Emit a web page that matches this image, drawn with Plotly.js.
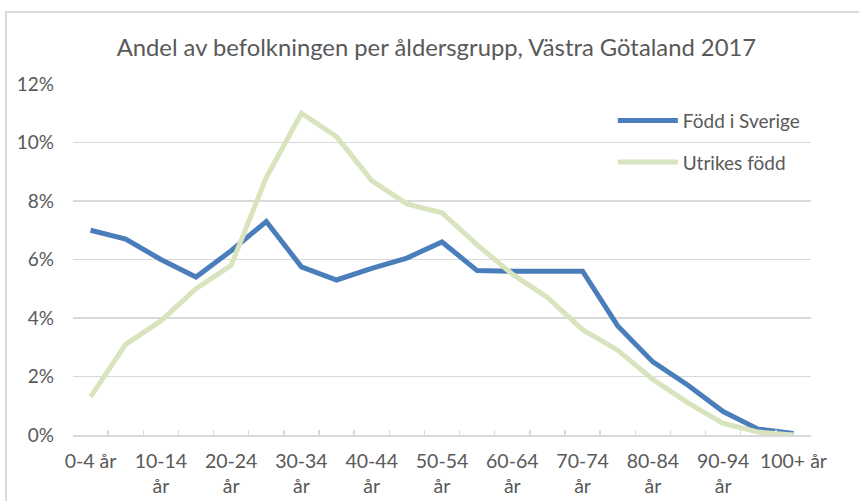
<!DOCTYPE html>
<html>
<head>
<meta charset="utf-8">
<script src="https://cdn.plot.ly/plotly-3.0.1.min.js"></script>
<style>
  html, body { margin: 0; padding: 0; background: #fff; }
  #wrap { position: relative; width: 859px; height: 501px; overflow: hidden; }
  #chart { position: absolute; left: 0; top: 0; width: 859px; height: 501px; }
  #frame { position: absolute; left: 5px; top: 11px; width: 900px; height: 600px;
           border: 2px solid #d9d9d9; pointer-events: none; box-sizing: border-box; }
</style>
</head>
<body>
<div id="wrap"><div id="chart"></div><div id="frame"></div></div>
<script>
// Age groups
const categories = ["0-4 år","5-9 år","10-14 år","15-19 år","20-24 år","25-29 år","30-34 år",
  "35-39 år","40-44 år","45-49 år","50-54 år","55-59 år","60-64 år","65-69 år","70-74 år",
  "75-79 år","80-84 år","85-89 år","90-94 år","95-99 år","100+ år"];
// Share of population (fraction)
const foddSverige = [0.070,0.067,0.060,0.054,0.063,0.073,0.0575,0.053,0.057,0.0605,0.066,
  0.0562,0.056,0.056,0.056,0.0373,0.025,0.017,0.008,0.002,0.0005];
const utrikesFodd = [0.013,0.031,0.039,0.050,0.058,0.088,0.110,0.102,0.087,0.079,0.076,
  0.065,0.055,0.047,0.036,0.029,0.019,0.011,0.004,0.001,0.0];
// Tick labels shown (every other group)
const tickLabels = ["0-4 år","","10-14<br>år","","20-24<br>år","","30-34<br>år","","40-44<br>år","",
  "50-54<br>år","","60-64<br>år","","70-74<br>år","","80-84<br>år","","90-94<br>år","","100+ år"];

const FONT = "Lato, 'Open Sans', sans-serif";
const TXT = "#595959";

const traces = [
  {x: categories, y: foddSverige, type: "scatter", mode: "lines", name: "Född i Sverige",
   line: {color: "#4a7ebb", width: 5}, legendgroup: "a"},
  {x: categories, y: utrikesFodd, type: "scatter", mode: "lines", name: "Utrikes född",
   line: {color: "#d7e4bd", width: 5}, legendgroup: "b"}
];

const layout = {
  width: 859, height: 501,
  margin: {l: 73, r: 48, t: 84, b: 66},
  paper_bgcolor: "#fff", plot_bgcolor: "#fff",
  font: {family: FONT, color: TXT},
  title: {text: "Andel av befolkningen per åldersgrupp, Västra Götaland 2017",
          font: {family: FONT, size: 23.8, color: TXT}, x: 0.508, xanchor: "center", y: 0.905, yanchor: "middle"},
  showlegend: true,
  legend: {x: 0.7315, xanchor: "left", y: 0.95, yanchor: "top", bgcolor: "rgba(0,0,0,0)",
           font: {family: FONT, size: 19, color: TXT}, traceorder: "grouped", tracegroupgap: 14,
           itemwidth: 60},
  xaxis: {type: "category", range: [-0.5, 20.5], tickmode: "array", tickvals: categories, ticktext: tickLabels,
          tickson: "boundaries", ticks: "inside", ticklen: 5, tickcolor: "#d9d9d9", tickwidth: 1.5,
          showline: true, linecolor: "#d9d9d9", linewidth: 1.5, showgrid: false, zeroline: false,
          tickangle: 0, tickfont: {family: FONT, size: 19.5, color: TXT}, ticklabelstandoff: 8,
          fixedrange: true},
  yaxis: {range: [0, 0.12], dtick: 0.02, tickformat: ".0%", showgrid: true, gridcolor: "#d9d9d9",
          gridwidth: 1.5, zeroline: false, showline: false, ticks: "",
          tickfont: {family: FONT, size: 19, color: TXT}, ticklabelstandoff: 18, fixedrange: true}
};

Plotly.newPlot("chart", traces, layout, {displayModeBar: false, staticPlot: true});
</script>
</body>
</html>
